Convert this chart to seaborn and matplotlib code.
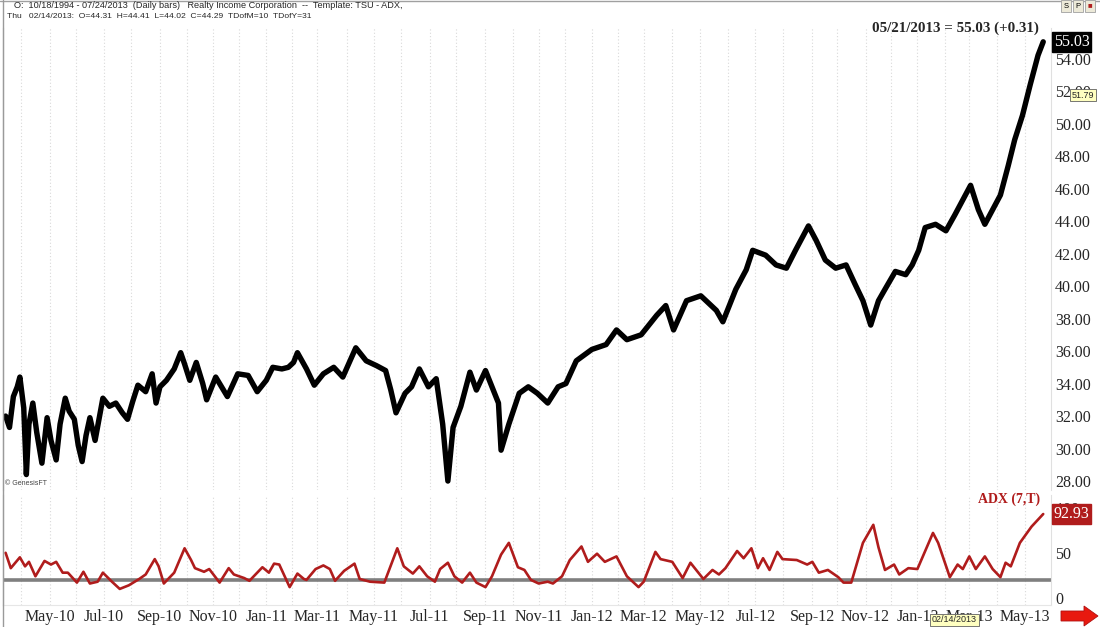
import numpy as np
import pandas as pd
import matplotlib
matplotlib.use("Agg")
import matplotlib.pyplot as plt
from matplotlib.patches import Polygon
from pandas.tseries.holiday import USFederalHolidayCalendar
from pandas.tseries.offsets import CustomBusinessDay
import seaborn as sns

# ---- data (bar number = trading session since first bar) ----
price_bar = [0, 3, 6, 9, 11, 14, 16, 18, 21, 24, 28, 32, 35, 39, 42, 46, 49, 53, 56, 59,
             62, 65, 69, 75, 80, 85, 90, 94, 98, 102, 108, 113, 116, 119, 124, 130, 135, 138,
             142, 147, 152, 155, 162, 168, 171, 179, 187, 194, 201, 206, 213, 218, 222, 225,
             232, 238, 245, 253, 260, 270, 278, 286, 293, 297, 301, 308, 313, 319, 326, 332,
             337, 341, 345, 351, 358, 363, 370, 375, 380, 382, 388, 396, 403, 410, 418, 426,
             432, 440, 452, 463, 471, 479, 490, 502, 509, 515, 525, 536, 548, 553, 563, 571,
             576, 586, 594, 602, 609, 619, 625, 632, 640, 648, 655, 661, 667, 673, 678, 686,
             694, 699, 704, 709, 717, 725, 732, 738, 744, 750, 755, 761, 767, 773, 778, 784,
             790, 796, 800]
price_close = [32.0, 31.3, 33.2, 33.8, 34.4, 32.5, 28.4, 31.5, 32.8, 31.0, 29.1, 31.9, 30.5,
               29.3, 31.5, 33.1, 32.3, 31.8, 30.2, 29.2, 30.8, 31.9, 30.5, 33.1, 32.6, 32.8,
               32.2, 31.8, 32.9, 33.9, 33.5, 34.6, 32.8, 33.8, 34.2, 34.9, 35.9, 35.2, 34.2,
               35.3, 34.0, 33.0, 34.4, 33.6, 33.2, 34.6, 34.5, 33.5, 34.2, 35.0, 34.9, 35.0,
               35.3, 35.9, 34.9, 33.9, 34.6, 35.0, 34.4, 36.2, 35.4, 35.1, 34.8, 33.6, 32.2,
               33.4, 33.8, 34.9, 33.8, 34.3, 31.5, 28.0, 31.3, 32.6, 34.7, 33.6, 34.8, 33.8,
               32.8, 29.9, 31.5, 33.4, 33.8, 33.4, 32.8, 33.8, 34.0, 35.4, 36.1, 36.4, 37.3,
               36.7, 37.0, 38.2, 38.8, 37.3, 39.1, 39.4, 38.5, 37.8, 39.8, 41.0, 42.2, 41.9,
               41.3, 41.1, 42.2, 43.7, 42.8, 41.6, 41.1, 41.3, 40.1, 39.1, 37.6, 39.1, 39.8,
               40.9, 40.7, 41.3, 42.2, 43.6, 43.8, 43.4, 44.4, 45.3, 46.2, 44.7, 43.8, 44.7,
               45.6, 47.4, 49.0, 50.5, 52.4, 54.2, 55.03]

adx_bar = [0, 4, 11, 15, 18, 23, 30, 35, 39, 44, 48, 55, 60, 65, 71, 75, 82, 88, 95, 103,
           108, 115, 118, 122, 130, 138, 143, 146, 153, 157, 165, 172, 176, 184, 188, 198,
           203, 207, 211, 219, 225, 230, 232, 239, 245, 250, 254, 261, 269, 273, 281, 292,
           302, 307, 314, 319, 325, 331, 335, 341, 346, 352, 358, 363, 370, 375, 382, 388,
           395, 400, 405, 411, 418, 422, 429, 435, 444, 449, 456, 462, 471, 479, 488, 492,
           501, 505, 514, 522, 528, 538, 545, 550, 555, 564, 569, 575, 580, 584, 589, 595,
           599, 610, 618, 622, 627, 634, 642, 646, 652, 661, 669, 673, 678, 685, 689, 696,
           703, 715, 719, 728, 734, 738, 743, 748, 755, 761, 767, 771, 775, 782, 791, 800]
adx_value = [50, 33, 45, 35, 40, 24, 41, 37, 40, 28, 28, 17, 29, 16, 18, 28, 18, 10, 14, 21,
             26, 43, 35, 16, 28, 55, 42, 33, 29, 32, 17, 33, 26, 22, 19, 34, 28, 38, 37, 12,
             27, 21, 20, 32, 36, 32, 19, 30, 38, 21, 18, 17, 55, 35, 27, 35, 24, 18, 32, 39,
             24, 17, 28, 17, 12, 24, 48, 61, 34, 31, 20, 16, 18, 16, 24, 42, 57, 40, 49, 40,
             46, 24, 12, 18, 51, 43, 40, 22, 39, 21, 31, 26, 33, 52, 44, 55, 33, 44, 31, 51,
             43, 42, 37, 40, 28, 31, 23, 17, 17, 61, 81, 56, 31, 37, 26, 33, 32, 72, 61, 23,
             37, 32, 46, 32, 46, 32, 23, 39, 35, 61, 79, 92.93]
adx_level = 20

price_ticks = [28, 30, 32, 34, 36, 38, 40, 42, 44, 46, 48, 50, 52, 54]
adx_ticks = [0, 50, 100]
last_date = "2013-05-21"

header_1 = "O:  10/18/1994 - 07/24/2013  (Daily bars)   Realty Income Corporation  --  Template: TSU - ADX,"
header_2 = "Thu   02/14/2013:  O=44.31  H=44.41  L=44.02  C=44.29  TDofM=10  TDofY=31"

# trading calendar -> month boundaries
cbd = CustomBusinessDay(calendar=USFederalHolidayCalendar())
days = pd.date_range("2010-01-01", last_date, freq=cbd)[-(max(price_bar) + 1):]
month_start = [i for i in range(1, len(days)) if days[i].month != days[i - 1].month]
label_pos = [i for i in month_start if days[i].month % 2 == 1]
label_txt = [days[i].strftime("%b-%y") for i in label_pos]

price_df = pd.DataFrame({"bar": price_bar, "close": price_close})
adx_df = pd.DataFrame({"bar": adx_bar, "adx": adx_value})

sns.set_style("white")
plt.rcParams["font.family"] = ["Liberation Serif", "DejaVu Serif"]

W, H = 1100, 627
fig = plt.figure(figsize=(11, 6.27), dpi=100)
ax = fig.add_axes([3 / W, 1 - 490 / H, 1048 / W, 462 / H])
ax2 = fig.add_axes([3 / W, 1 - 605 / H, 1048 / W, 110 / H], sharex=ax)

sns.lineplot(data=price_df, x="bar", y="close", ax=ax, color="black", lw=3.9,
             sort=False, estimator=None)
sns.lineplot(data=adx_df, x="bar", y="adx", ax=ax2, color="#b01c1c", lw=1.9,
             sort=False, estimator=None)
ax2.axhline(adx_level, color="#7f7f7f", lw=2.6, zorder=1)

xmin, xmax = -2, max(price_bar) + 6
for a in (ax, ax2):
    a.set_xlim(xmin, xmax)
    for m in month_start:
        a.axvline(m, color="#d9d9d9", lw=0.8, ls=(0, (1, 2)), zorder=0)
    a.set_xlabel("")
    a.set_ylabel("")
    a.yaxis.tick_right()
    a.tick_params(axis="y", length=0, labelsize=11.5, pad=3)
    for s in ("top", "bottom"):
        a.spines[s].set_visible(False)
    a.spines["left"].set_color("#9a9a9a")
    a.spines["right"].set_color("#e0e0e0")

ax.set_ylim(27.45, 55.88)
ax.set_yticks(price_ticks)
ax.set_yticklabels([f"{v:.2f}" for v in price_ticks])
ax.tick_params(axis="x", bottom=False, labelbottom=False)

ax2.set_ylim(-7.8, 114)
ax2.set_yticks(adx_ticks)
ax2.set_yticklabels([str(v) for v in adx_ticks])
ax2.set_xticks(label_pos)
ax2.set_xticklabels(label_txt)
ax2.tick_params(axis="x", length=0, labelsize=11.5, pad=3)
ax2.spines["bottom"].set_visible(True)
ax2.spines["bottom"].set_color("#e6e6e6")

# last value boxes
ax.annotate(f"{price_close[-1]:.2f}", xy=(1.0, price_close[-1]), xycoords=("axes fraction", "data"),
            xytext=(2, 0), textcoords="offset points", va="center", ha="left",
            color="white", fontsize=11.5,
            bbox=dict(boxstyle="square,pad=0.12", fc="black", ec="black"))
ax2.annotate(f"{adx_value[-1]:.2f}", xy=(1.0, adx_value[-1]), xycoords=("axes fraction", "data"),
             xytext=(2, 0), textcoords="offset points", va="center", ha="left",
             color="white", fontsize=11.5, zorder=5,
             bbox=dict(boxstyle="square,pad=0.12", fc="#b01c1c", ec="#b01c1c"))

ax.text(0.988, 1.0, "05/21/2013 = 55.03 (+0.31)", transform=ax.transAxes, ha="right", va="center",
        fontsize=10.8, fontweight="bold")
ax2.text(0.99, 0.96, "ADX (7,T)", transform=ax2.transAxes, ha="right", va="center",
         fontsize=10, fontweight="bold", color="#b01c1c")
ax.text(0.002, 0.006, "© GenesisFT", transform=ax.transAxes, fontsize=5,
        family="Liberation Sans", color="#444444", va="bottom")

# header
fig.text(14 / W, 1 - 6 / H, header_1, fontsize=6.6, family="Liberation Sans", va="center")
fig.text(7 / W, 1 - 17 / H, header_2, fontsize=6.1, family="Liberation Sans", va="center")
fig.add_artist(plt.Line2D([0, 1], [1 - 1 / H, 1 - 1 / H], color="#a0a0a0", lw=1))
fig.add_artist(plt.Line2D([3 / W, 3 / W], [0, 1], color="#9a9a9a", lw=1))
for bx, lab in zip([1066, 1078, 1090], ["S", "P", "■"]):
    fig.text(bx / W, 1 - 6 / H, lab, fontsize=5.5, family="Liberation Sans", va="center",
             ha="center", color="#b02020" if lab == "■" else "black",
             bbox=dict(boxstyle="square,pad=0.35", fc="#ece9d8", ec="#a0a0a0", lw=0.6))

# tooltips
fig.text(1072 / W, 1 - 95 / H, "51.79", fontsize=6.5, family="Liberation Sans", va="center",
         bbox=dict(boxstyle="square,pad=0.2", fc="#ffffc0", ec="#606060", lw=0.6))
fig.text(932 / W, 1 - 620 / H, "02/14/2013", fontsize=6.5, family="Liberation Sans", va="center",
         bbox=dict(boxstyle="square,pad=0.2", fc="#ffffc0", ec="#606060", lw=0.6))

# red arrow at bottom right
arrow_px = [(1061, 611), (1084, 611), (1084, 606), (1098, 616), (1084, 626), (1084, 621), (1061, 621)]
fig.add_artist(Polygon([(x / W, 1 - y / H) for x, y in arrow_px], closed=True,
                       transform=fig.transFigure, fc="#e8190f", ec="#b01010", lw=0.6))

fig.savefig("out.png", dpi=100)
